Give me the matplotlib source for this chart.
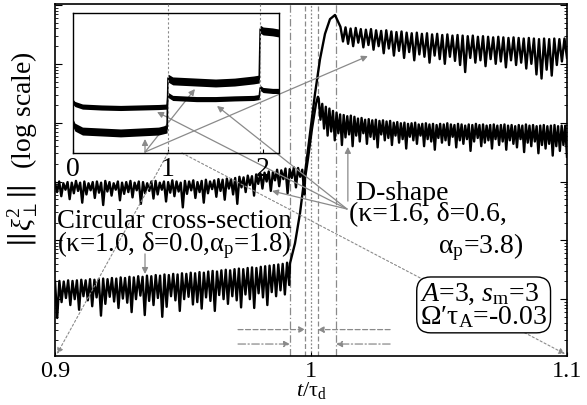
import numpy as np
import matplotlib

matplotlib.use("Agg")
import matplotlib.pyplot as plt
from matplotlib.ticker import LogLocator, NullFormatter

SERIF = ["Liberation Serif", "DejaVu Serif"]
RC = {
    "font.family": SERIF,
    "mathtext.fontset": "custom",
    "mathtext.rm": "Liberation Serif",
    "mathtext.it": "Liberation Serif:italic",
    "mathtext.bf": "Liberation Serif:bold",
    "mathtext.fallback": "stix",
}
plt.rcParams.update(RC)

# ---------------------------------------------------------------- data
# values are log10 ||xi_perp^2||
# circular cross-section, before the transition (one peak + one dip per cycle)
circ_pre_peak = [
    -4.70, -4.69, -4.70, -4.68, -4.69, -4.68, -4.67, -4.68, -4.66, -4.67,
    -4.66, -4.65, -4.66, -4.64, -4.65, -4.63, -4.64, -4.62, -4.63, -4.61,
    -4.62, -4.60, -4.61, -4.59, -4.60, -4.58, -4.59, -4.57, -4.58, -4.56,
    -4.57, -4.55, -4.56, -4.54, -4.55, -4.53, -4.52, -4.53, -4.51, -4.50,
    -4.51, -4.49, -4.48, -4.49, -4.47, -4.46, -4.47, -4.45, -4.44, -4.43,
    -4.42, -4.41, -4.40, -4.38,
]
circ_pre_dip = [
    -5.32, -5.05, -4.98, -5.10, -5.00, -5.18, -4.95, -5.02, -5.12, -4.97,
    -5.28, -5.08, -4.96, -5.04, -5.15, -4.99, -5.06, -5.22, -5.00, -4.94,
    -5.27, -5.03, -5.10, -4.98, -5.30, -5.13, -4.95, -5.02, -5.20, -5.00,
    -4.96, -5.09, -5.05, -5.16, -4.97, -5.03, -5.20, -4.93, -5.00, -5.08,
    -4.95, -5.02, -5.14, -4.92, -5.00, -5.15, -4.90, -4.97, -5.10, -4.88,
    -4.95, -4.85, -4.92, -4.76,
]
circ_rise_t = [0.99180, 0.99375, 0.99570, 0.99766, 0.99961, 1.00156,
               1.00352, 1.00547, 1.00742, 1.00937, 1.01094]
circ_rise_val = [-4.39, -4.05, -3.54, -2.86, -2.19, -1.51,
                 -0.92, -0.49, -0.24, -0.17, -0.32]
circ_post_peak = [
    -0.37, -0.38, -0.40, -0.39, -0.41, -0.42, -0.41, -0.43, -0.44, -0.43,
    -0.45, -0.46, -0.45, -0.47, -0.48, -0.47, -0.49, -0.48, -0.50, -0.49,
    -0.51, -0.50, -0.52, -0.51, -0.52, -0.53, -0.52, -0.54, -0.53, -0.54,
    -0.55, -0.54, -0.55, -0.56, -0.55, -0.56, -0.57, -0.56, -0.57, -0.58,
    -0.57, -0.58, -0.57, -0.58, -0.57,
]
circ_post_dip = [
    -0.62, -0.66, -0.70, -0.64, -0.72, -0.68, -0.76, -0.70, -0.82, -0.74,
    -0.86, -0.78, -0.90, -0.80, -0.94, -0.84, -0.88, -0.98, -0.86, -0.92,
    -1.00, -0.88, -0.95, -1.02, -1.14, -0.90, -0.98, -0.94, -1.04, -0.92,
    -1.00, -0.96, -1.06, -0.94, -1.02, -0.98, -1.08, -1.00, -1.18, -1.25,
    -1.10, -1.20, -1.02, -0.96, -0.90,
]

# D-shape
dsh_pre_peak = [
    -3.02, -3.00, -3.03, -3.01, -3.02, -2.99, -3.02, -3.00, -3.03, -3.01,
    -3.00, -3.02, -2.99, -3.01, -3.03, -3.00, -3.02, -3.01, -2.99, -3.02,
    -3.00, -3.01, -3.03, -3.00, -2.99, -3.02, -3.00, -3.01, -2.98, -3.00,
    -3.02, -2.99, -3.00, -2.98, -3.01, -2.99, -2.97, -3.00, -2.98, -2.96,
    -2.97, -2.95, -2.96, -2.94, -2.92, -2.93, -2.90, -2.91, -2.88, -2.86,
    -2.85, -2.83, -2.84, -2.80, -2.81, -2.78, -2.79, -2.76, -2.77, -2.80,
]
dsh_pre_dip = [
    -3.18, -3.25, -3.14, -3.30, -3.20, -3.16, -3.36, -3.22, -3.15, -3.28,
    -3.19, -3.40, -3.17, -3.24, -3.14, -3.32, -3.21, -3.18, -3.27, -3.15,
    -3.38, -3.20, -3.16, -3.29, -3.22, -3.14, -3.34, -3.19, -3.25, -3.17,
    -3.44, -3.21, -3.15, -3.28, -3.18, -3.36, -3.20, -3.13, -3.26, -3.16,
    -3.31, -3.12, -3.22, -3.38, -3.10, -3.18, -3.06, -3.24, -3.04, -3.12,
    -3.00, -3.16, -2.98, -3.08, -2.96, -3.20, -2.94, -3.10, -2.92, -3.22,
]
dsh_rise_t = [0.99766, 0.99883, 1.00040, 1.00195, 1.00270]
dsh_rise_val = [-2.95, -2.61, -2.10, -1.68, -1.56]
dsh_post_peak = [
    -1.59, -1.68, -1.73, -1.76, -1.80, -1.83, -1.86, -1.87, -1.89, -1.88,
    -1.90, -1.93, -1.92, -1.95, -1.94, -1.96, -1.95, -1.97, -1.96, -1.98,
    -1.97, -2.00, -1.99, -2.01, -2.00, -2.02, -2.01, -2.00, -2.03, -2.02,
    -2.01, -2.03, -2.02, -2.04, -2.02, -2.03, -2.01, -2.03, -2.04, -2.02,
    -2.03, -2.05, -2.03, -2.04, -2.02, -2.04, -2.03, -2.05, -2.04, -2.03,
    -2.05, -2.04, -2.03, -2.05, -2.04, -2.06, -2.04, -2.05, -2.03, -2.05,
    -2.04, -2.06, -2.05, -2.04, -2.06, -2.05, -2.04, -2.06, -2.05, -2.05,
]
dsh_post_dip = [
    -1.95, -2.10, -2.22, -2.15, -2.30, -2.18, -2.38, -2.25, -2.20, -2.40,
    -2.22, -2.32, -2.18, -2.36, -2.24, -2.28, -2.42, -2.20, -2.30, -2.26,
    -2.38, -2.22, -2.34, -2.28, -2.44, -2.24, -2.30, -2.36, -2.22, -2.40,
    -2.28, -2.32, -2.46, -2.26, -2.34, -2.30, -2.38, -2.24, -2.42, -2.30,
    -2.36, -2.28, -2.48, -2.32, -2.26, -2.40, -2.34, -2.30, -2.44, -2.28,
    -2.38, -2.32, -2.46, -2.30, -2.36, -2.42, -2.28, -2.50, -2.34, -2.40,
    -2.32, -2.52, -2.38, -2.44, -2.36, -2.56, -2.40, -2.48, -2.38, -2.58,
]

# time spans of the oscillating pieces (t / tau_d)
circ_pre_span = (0.9, 0.9915)
circ_post_span = (1.0115, 1.1)
dsh_pre_span = (0.9, 0.9974)
dsh_post_span = (1.0030, 1.1)

# marker windows (t / tau_d)
window_dashed = [0.99775, 1.0026]
window_dashdot = [0.9918, 1.0098]
window_center = 1.0

# inset: whole run, log10 values, band centre + half width
ins_left_x = [0.0, 0.02, 0.1, 0.3, 0.5, 0.7, 0.9, 0.99]
ins_circ_left = [-4.71, -4.89, -5.06, -5.10, -5.14, -5.10, -5.06, -4.97]
ins_dsh_left = [-3.81, -3.90, -4.01, -4.05, -4.07, -4.05, -4.03, -4.01]
ins_mid_x = [1.0, 1.05, 1.3, 1.5, 1.7, 1.9, 1.96]
ins_circ_mid = [-2.79, -2.91, -2.96, -3.00, -2.96, -2.87, -2.83]
ins_dsh_mid = [-3.51, -3.64, -3.69, -3.69, -3.66, -3.64, -3.60]
ins_right_x = [1.97, 2.0, 2.1, 2.17]
ins_circ_right = [-0.69, -0.77, -0.81, -0.86]
ins_dsh_right = [-3.21, -3.30, -3.34, -3.34]
ins_circ_half = 0.17
ins_dsh_half = 0.11
ins_marks = [1.0, 1.97]

GRAY = "#8a8a8a"
FS = 20


def zigzag(peaks, dips, span):
    vals = np.empty(2 * len(peaks))
    vals[0::2] = peaks
    vals[1::2] = dips
    t = np.linspace(span[0], span[1], len(vals))
    return t, vals


def build_curve(pre_peak, pre_dip, pre_span, rise_t, rise_val,
                post_peak, post_dip, post_span):
    t1, v1 = zigzag(pre_peak, pre_dip, pre_span)
    t3, v3 = zigzag(post_peak, post_dip, post_span)
    t = np.concatenate([t1, rise_t, t3])
    v = np.concatenate([v1, rise_val, v3])
    return t, 10.0 ** v


def label(axis, x, y, s, **kw):
    kw.setdefault("transform", axis.transAxes)
    kw.setdefault("fontsize", FS)
    return axis.text(x, y, s, family=SERIF, **kw)


with plt.rc_context(RC):
    fig = plt.figure(figsize=(5.87, 4.06), dpi=100)
    ax = fig.add_axes([55 / 587, 49 / 406, 512 / 587, 352 / 406])
    ax.set_facecolor("white")

    # window markers
    trans_x = ax.get_xaxis_transform()
    for tv in window_dashdot:
        ax.axvline(tv, color=GRAY, lw=0.9, ls=(0, (6, 2, 1, 2)), zorder=1)
    for tv in window_dashed:
        ax.axvline(tv, color=GRAY, lw=0.9, ls=(0, (4, 2)), zorder=1)
    ax.axvline(window_center, color=GRAY, lw=0.9, ls=(0, (1.5, 1.5)),
               zorder=1)

    arrow_kw = dict(arrowstyle="-|>", color=GRAY, lw=0.9, mutation_scale=9,
                    shrinkA=0, shrinkB=0)
    for tv, x0 in zip(window_dashed, [0.9715, 1.0309]):
        ax.annotate("", xy=(tv, 0.075), xytext=(x0, 0.075),
                    xycoords=trans_x, textcoords=trans_x,
                    arrowprops=dict(arrow_kw, linestyle=(0, (4, 2))))
    for tv, x0 in zip(window_dashdot, [0.9715, 1.0309]):
        ax.annotate("", xy=(tv, 0.034), xytext=(x0, 0.034),
                    xycoords=trans_x, textcoords=trans_x,
                    arrowprops=dict(arrow_kw, linestyle=(0, (6, 2, 1, 2))))

    # curves
    t_c, y_c = build_curve(circ_pre_peak, circ_pre_dip, circ_pre_span,
                           circ_rise_t, circ_rise_val,
                           circ_post_peak, circ_post_dip, circ_post_span)
    t_d, y_d = build_curve(dsh_pre_peak, dsh_pre_dip, dsh_pre_span,
                           dsh_rise_t, dsh_rise_val,
                           dsh_post_peak, dsh_post_dip, dsh_post_span)
    ax.plot(t_c, y_c, color="black", lw=1.7, zorder=3)
    ax.plot(t_d, y_d, color="black", lw=1.7, zorder=3)

    ax.set_xlim(0.9, 1.1)
    ax.set_yscale("log")
    ax.set_ylim(10 ** -5.966, 10 ** 0.017)
    ax.set_xticks([0.9, 1.0, 1.1])
    ax.set_xticklabels(["0.9", "1", "1.1"], family=SERIF, fontsize=17.5)
    ax.yaxis.set_major_locator(LogLocator(base=10, numticks=20))
    ax.yaxis.set_minor_locator(LogLocator(base=10, subs=np.arange(2, 10),
                                          numticks=20))
    ax.yaxis.set_major_formatter(NullFormatter())
    ax.yaxis.set_minor_formatter(NullFormatter())
    ax.tick_params(axis="both", which="both", direction="in", right=True,
                   pad=3)
    ax.tick_params(axis="y", which="major", length=5)
    ax.tick_params(axis="y", which="minor", length=2.5)
    ax.tick_params(axis="x", which="major", length=3)
    for sp in ax.spines.values():
        sp.set_linewidth(1.2)

    ax.set_xlabel("$t$/τ$_\\mathrm{d}$", fontsize=16, family=SERIF,
                  labelpad=-1.5)
    label(ax, -0.06, 0.59, r"$\left\Vert\xi_\perp^2\right\Vert$  (log scale)",
          rotation=90, ha="center", va="center")

    # inset
    ax2 = fig.add_axes([73 / 587, 252 / 406, 206 / 587, 140 / 406])
    ax2.patch.set_alpha(0.0)
    for xs, cs, ds in [(ins_left_x, ins_circ_left, ins_dsh_left),
                       (ins_mid_x, ins_circ_mid, ins_dsh_mid),
                       (ins_right_x, ins_circ_right, ins_dsh_right)]:
        cs = np.array(cs)
        ds = np.array(ds)
        ax2.fill_between(xs, cs - ins_circ_half, cs + ins_circ_half,
                         color="black", lw=0)
        ax2.fill_between(xs, ds - ins_dsh_half, ds + ins_dsh_half,
                         color="black", lw=0)
    ins_x_all = ins_left_x + ins_mid_x + ins_right_x
    ax2.plot(ins_x_all, ins_circ_left + ins_circ_mid + ins_circ_right,
             color="black", lw=1.2)
    ax2.plot(ins_x_all, ins_dsh_left + ins_dsh_mid + ins_dsh_right,
             color="black", lw=1.2)
    ins_tx = ax2.get_xaxis_transform()
    for xm in ins_marks:
        ax2.plot([xm, xm], [0, 1.064], transform=ins_tx, color=GRAY, lw=0.8,
                 ls=(0, (2, 2)), clip_on=False)
    ax2.set_xlim(0, 2.168)
    ax2.set_ylim(-6, 0)
    ax2.set_xticks([0, 1, 2])
    ax2.set_xticklabels(["0", "1", "2"], family=SERIF, fontsize=FS)
    ax2.set_yticks([])
    ax2.tick_params(axis="x", direction="in", length=3, pad=2)
    for sp in ax2.spines.values():
        sp.set_linewidth(1.0)

    # dotted zoom guides from inset to the main frame corners
    ax.annotate("", xy=(0.004, 0.006), xytext=(0.461, 0.0),
                xycoords=ax.transAxes, textcoords=ax2.transAxes,
                arrowprops=dict(arrow_kw, linestyle=(0, (2, 2)), lw=0.8),
                annotation_clip=False)
    ax.annotate("", xy=(0.996, 0.006), xytext=(0.529, 0.0),
                xycoords=ax.transAxes, textcoords=ax2.transAxes,
                arrowprops=dict(arrow_kw, linestyle=(0, (2, 2)), lw=0.8),
                annotation_clip=False)

    # circular cross-section labels
    c_origin = (0.1758, 0.5795)
    for xy, coords in [((0.3495, 0.10), ax2.transAxes),
                       ((0.592, 0.457), ax2.transAxes),
                       ((0.611, 0.852), ax.transAxes)]:
        ax.annotate("", xy=xy, xytext=c_origin, xycoords=coords,
                    textcoords=ax.transAxes, arrowprops=arrow_kw,
                    annotation_clip=False)
    ax.annotate("", xy=(0.1758, 0.233), xytext=(0.1758, 0.29),
                xycoords=ax.transAxes, textcoords=ax.transAxes,
                arrowprops=arrow_kw)
    label(ax, 0.003, 0.347,
          "Circular cross-section\n(κ=1.0, δ=0.0,α$_\\mathrm{p}$=1.8)",
          fontsize=19.3, ha="left", va="center", linespacing=0.8)

    # D-shape labels
    d_origin = (0.5703, 0.4176)
    for xy, coords in [((0.408, 0.293), ax2.transAxes),
                       ((0.699, 0.336), ax2.transAxes),
                       ((0.4238, 0.46875), ax.transAxes)]:
        ax.annotate("", xy=xy, xytext=d_origin, xycoords=coords,
                    textcoords=ax.transAxes, arrowprops=arrow_kw,
                    annotation_clip=False)
    ax.annotate("", xy=(0.572, 0.594), xytext=(0.572, 0.44),
                xycoords=ax.transAxes, textcoords=ax.transAxes,
                arrowprops=arrow_kw)
    label(ax, 0.575, 0.435, " D-shape\n(κ=1.6, δ=0.6,", ha="left",
          va="center", linespacing=0.78)
    label(ax, 0.914, 0.3125, "α$_\\mathrm{p}$=3.8)", ha="right", va="center")

    # parameter box
    label(ax, 0.713, 0.145,
          "$\\mathit{A}$=3, $\\mathit{s}_\\mathrm{m}$=3\nΩ′τ$_\\mathrm{A}$=-0.03",
          ha="left", va="center", linespacing=0.9,
          bbox=dict(boxstyle="round,pad=0.12,rounding_size=0.5",
                    fc="white", ec="black", lw=1.0))

    fig.savefig("out.png", dpi=100, facecolor="white")
